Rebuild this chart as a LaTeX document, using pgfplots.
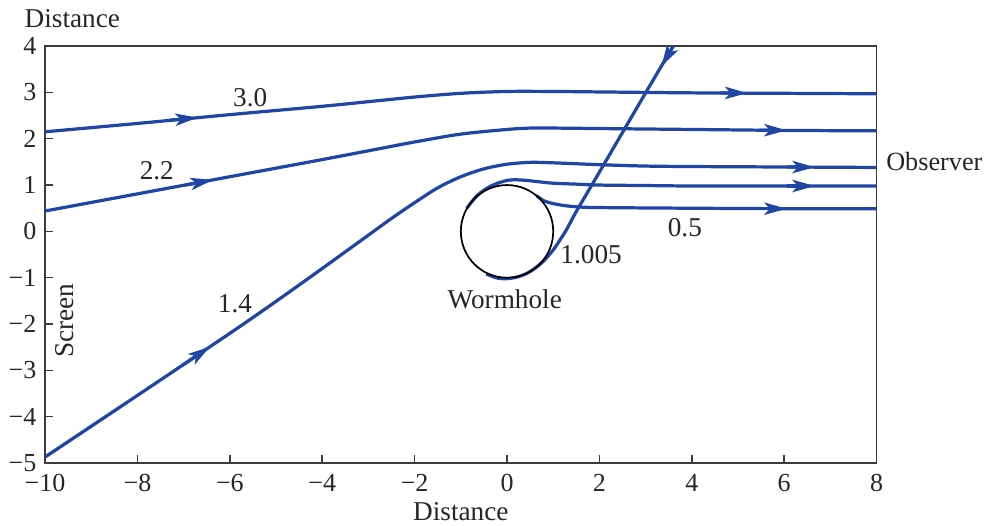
\documentclass[border=0pt]{standalone}
\usepackage{pgfplots}
\pgfplotsset{compat=1.18}
\usepackage{fontspec}
\setmainfont{Liberation Serif}
\usetikzlibrary{arrows.meta}

\definecolor{ray}{RGB}{32,70,165}
\definecolor{axgray}{RGB}{60,60,60}

\tikzset{
  rayline/.style={ray, line width=1.3pt, smooth},
  rayarrow/.style={ray, line width=1.3pt, -{Stealth[length=9pt,width=5pt,inset=2.2pt]}},
}

\begin{document}
\begin{tikzpicture}
\begin{axis}[
    at={(0,0)}, anchor=south west,
    scale only axis,
    width=336pt, height=168.5pt,
    xmin=-10, xmax=8, ymin=-5, ymax=4,
    xtick={-10,-8,-6,-4,-2,0,2,4,6,8},
    xticklabels={−10,−8,−6,−4,−2,0,2,4,6,8},
    ytick={-5,-4,-3,-2,-1,0,1,2,3,4},
    yticklabels={−5,−4,−3,−2,−1,0,1,2,3,4},
    tick pos=left,
    tick align=inside,
    major tick length=3.2pt,
    axis line style={axgray, line width=0.6pt},
    tick style={axgray, line width=0.6pt},
    ticklabel style={font=\fontsize{10.5}{12}\selectfont, text=black!85},
    xticklabel style={yshift=-1pt},
    clip mode=individual,
  ]

  % impact parameter 3.0
  \addplot[rayline] coordinates {
      (-10,2.15) (-8,2.33) (-6,2.52) (-4,2.70) (-3,2.80) (-2,2.90) (-1,2.98)
      (0,3.02) (1,3.02) (2,3.01) (4,2.99) (6,2.98) (8,2.97)
    };
  \addplot[rayarrow] coordinates {(-7.3,2.40) (-6.7,2.455)};
  \addplot[rayarrow] coordinates {(4.6,2.99) (5.2,2.985)};

  % impact parameter 2.2
  \addplot[rayline] coordinates {
      (-10,0.44) (-8,0.81) (-6,1.18) (-4,1.55) (-3,1.74) (-2,1.93) (-1,2.10)
      (0,2.20) (0.5,2.23) (1,2.23) (2,2.22) (4,2.20) (6,2.18) (8,2.17)
    };
  \addplot[rayarrow] coordinates {(-6.97,1.0) (-6.37,1.11)};
  \addplot[rayarrow] coordinates {(5.45,2.186) (6.05,2.18)};

  % impact parameter 1.4
  \addplot[rayline] coordinates {
      (-10,-4.87) (-8,-3.54) (-6,-2.20) (-5,-1.51) (-4,-0.80) (-3,-0.08)
      (-2.5,0.28) (-2,0.62) (-1.5,0.94) (-1,1.18) (-0.5,1.35) (0,1.45)
      (0.5,1.49) (1,1.48) (2,1.44) (3,1.41) (4,1.40) (6,1.39) (8,1.38)
    };
  \addplot[rayarrow] coordinates {(-7.03,-2.89) (-6.43,-2.49)};
  \addplot[rayarrow] coordinates {(6.06,1.39) (6.66,1.385)};

  % ray leaving the throat near y = 1
  \addplot[rayline] coordinates {
      (-0.87,0.50) (-0.64,0.78) (-0.35,0.98) (0,1.10) (0.3,1.11) (0.7,1.07)
      (1,1.04) (1.5,1.02) (2,1.00) (3,0.99) (4,0.98) (6,0.98) (8,0.98)
    };
  \addplot[rayarrow] coordinates {(6.06,0.98) (6.66,0.98)};

  % impact parameter 0.5
  \addplot[rayline] coordinates {
      (0.64,0.77) (0.8,0.66) (1.0,0.60) (1.3,0.55) (1.7,0.52) (2.5,0.51)
      (4,0.50) (6,0.49) (8,0.49)
    };
  \addplot[rayarrow] coordinates {(5.45,0.49) (6.05,0.49)};

  % impact parameter 1.005
  \addplot[rayline] coordinates {
      (3.70,4.17) (3.0,2.99) (2.0,1.28) (1.5,0.43) (1.3,0.06) (1.15,-0.18)
      (1.0,-0.40) (0.8,-0.63) (0.6,-0.80) (0.4,-0.92) (0.2,-0.99) (0,-1.02)
      (-0.2,-1.01) (-0.45,-0.92)
    };
  \addplot[rayarrow] coordinates {(3.64,4.07) (3.34,3.56)};

  % wormhole throat
  \draw[black, line width=0.7pt] (axis cs:0,0) ellipse [x radius=1, y radius=1];

  \begin{scope}[font=\fontsize{11}{13}\selectfont, text=black!85]
    \node[anchor=base] at (axis cs:-5.56,2.70) {3.0};
    \node[anchor=base] at (axis cs:-7.58,1.11) {2.2};
    \node[anchor=base] at (axis cs:-5.89,-1.76) {1.4};
    \node[anchor=base] at (axis cs:1.82,-0.69) {1.005};
    \node[anchor=base] at (axis cs:3.85,-0.10) {0.5};
    \node[anchor=base] at (axis cs:-0.05,-1.655) {Wormhole};
    \node[anchor=west, font=\fontsize{10.6}{12}\selectfont] at (axis cs:8.02,1.50) {Observer};
    \node[rotate=90] at (axis cs:-9.57,-1.93) {Screen};
    \node[anchor=base west, inner sep=0pt] at (axis cs:-10.45,4.39) {Distance};
    \node[anchor=base] at (axis cs:-1.0,-6.23) {Distance};
  \end{scope}
\end{axis}
\pgfresetboundingbox
\path[use as bounding box] (-18.2pt,-25.05pt) rectangle (380.2pt,187.1pt);
\end{tikzpicture}
\end{document}
